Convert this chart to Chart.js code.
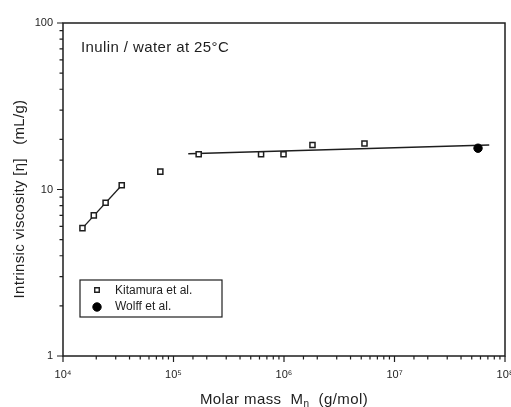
<!DOCTYPE html>
<html>
<head>
<meta charset="utf-8">
<script src="https://cdn.jsdelivr.net/npm/chart.js@4.4.1/dist/chart.umd.min.js"></script>
<style>
  html, body { margin: 0; padding: 0; background: #fff; }
  #wrap { width: 511px; height: 407px; }
</style>
</head>
<body>
<div id="wrap"><canvas id="chart" width="511" height="407"></canvas></div>
<script>
// Kitamura et al. (open squares)
const kitamuraMass = [1.5e4, 1.9e4, 2.43e4, 3.4e4, 7.6e4, 1.69e5, 6.2e5, 9.9e5, 1.81e6, 5.35e6];
const kitamuraVisc = [5.86, 6.99, 8.32, 10.6, 12.8, 16.3, 16.3, 16.3, 18.5, 18.9];
// Wolff et al. (filled circle)
const wolffMass = [5.7e7];
const wolffVisc = [17.7];
// fitted lines
const fitLowMass = [1.5e4, 3.4e4];
const fitLowVisc = [5.86, 10.6];
const fitHighMass = [1.36e5, 7.2e7];
const fitHighVisc = [16.4, 18.5];

const sup = { 4: '\u2074', 5: '\u2075', 6: '\u2076', 7: '\u2077', 8: '\u2078' };
const ink = '#1e1e1e';
const font = '"Liberation Sans", Arial, sans-serif';

const pts = (xs, ys) => xs.map((x, i) => ({ x: x, y: ys[i] }));
const isDecade = v => Math.abs(Math.log10(v) - Math.round(Math.log10(v))) < 1e-9;

const squareStyle = { pointStyle: 'rect', radius: 3.6, borderWidth: 1.5, rotation: 0 };
const circleStyle = { pointStyle: 'circle', radius: 4.2, borderWidth: 1, rotation: 0 };

// frame, ticks, titles, note and legend
const decor = {
  id: 'decor',
  afterDraw(chart) {
    const ctx = chart.ctx;
    const a = chart.chartArea;
    const xs = chart.scales.x, ys = chart.scales.y;
    ctx.save();
    ctx.strokeStyle = ink;
    ctx.lineWidth = 1.5;
    ctx.strokeRect(a.left, a.top, a.right - a.left, a.bottom - a.top);

    ctx.lineWidth = 1.2;
    ctx.beginPath();
    xs.ticks.forEach(t => {
      const px = xs.getPixelForValue(t.value);
      const len = isDecade(t.value) ? 6 : 3.5;
      ctx.moveTo(px, a.bottom);
      ctx.lineTo(px, a.bottom + len);
    });
    ys.ticks.forEach(t => {
      const py = ys.getPixelForValue(t.value);
      const len = isDecade(t.value) ? 6 : 3.5;
      ctx.moveTo(a.left, py);
      ctx.lineTo(a.left - len, py);
    });
    ctx.stroke();

    ctx.fillStyle = ink;
    ctx.letterSpacing = '0.4px';
    // note
    ctx.font = '15px ' + font;
    ctx.textAlign = 'left';
    ctx.textBaseline = 'alphabetic';
    ctx.fillText('Inulin / water at 25\u00B0C', 81, 51.5);

    // x title with subscript
    const p1 = 'Molar mass  M', p2 = '\u03B7', p3 = '  (g/mol)';
    ctx.font = '15px ' + font;
    const w1 = ctx.measureText(p1).width, w3 = ctx.measureText(p3).width;
    ctx.font = '10px ' + font;
    const w2 = ctx.measureText(p2).width;
    const x0 = 284 - (w1 + w2 + w3) / 2;
    ctx.font = '15px ' + font;
    ctx.fillText(p1, x0, 404);
    ctx.font = '10px ' + font;
    ctx.fillText(p2, x0 + w1, 407);
    ctx.font = '15px ' + font;
    ctx.fillText(p3, x0 + w1 + w2, 404);

    // y title
    ctx.save();
    ctx.letterSpacing = '0.3px';
    ctx.translate(20, 199);
    ctx.rotate(-Math.PI / 2);
    ctx.textAlign = 'center';
    ctx.textBaseline = 'middle';
    ctx.font = '15px ' + font;
    ctx.fillText('Intrinsic viscosity [\u03B7]   (mL/g)', 0, 0);
    ctx.restore();

    // legend
    ctx.letterSpacing = '0px';
    ctx.lineWidth = 1.2;
    ctx.strokeRect(80, 280, 142, 37);
    ctx.fillStyle = '#fff';
    ctx.strokeStyle = ink;
    ctx.lineWidth = 1.4;
    Chart.helpers.drawPoint(ctx, { pointStyle: 'rect', radius: 3.2, borderWidth: 1.4, rotation: 0 }, 97, 290);
    ctx.fillStyle = '#000';
    ctx.strokeStyle = '#000';
    ctx.lineWidth = 1;
    Chart.helpers.drawPoint(ctx, circleStyle, 97, 307);
    ctx.fillStyle = ink;
    ctx.font = '12px ' + font;
    ctx.textAlign = 'left';
    ctx.textBaseline = 'middle';
    ctx.fillText(chart.data.datasets[0].label, 115, 291);
    ctx.fillText(chart.data.datasets[1].label, 115, 307);
    ctx.restore();
  }
};

new Chart(document.getElementById('chart'), {
  type: 'scatter',
  data: {
    datasets: [
      {
        label: 'Kitamura et al.',
        data: pts(kitamuraMass, kitamuraVisc),
        pointStyle: 'rect',
        pointRadius: squareStyle.radius,
        pointBorderWidth: squareStyle.borderWidth,
        pointBorderColor: ink,
        pointBackgroundColor: '#fff',
        order: 1
      },
      {
        label: 'Wolff et al.',
        data: pts(wolffMass, wolffVisc),
        pointStyle: 'circle',
        pointRadius: circleStyle.radius,
        pointBorderColor: '#000',
        pointBackgroundColor: '#000',
        order: 1
      },
      {
        label: 'fit low',
        data: pts(fitLowMass, fitLowVisc),
        showLine: true,
        pointRadius: 0,
        borderColor: ink,
        borderWidth: 1.3,
        order: 2
      },
      {
        label: 'fit high',
        data: pts(fitHighMass, fitHighVisc),
        showLine: true,
        pointRadius: 0,
        borderColor: ink,
        borderWidth: 1.3,
        order: 2
      }
    ]
  },
  options: {
    responsive: false,
    animation: false,
    maintainAspectRatio: false,
    layout: { padding: { top: 23, right: 6, left: 0, bottom: 0 } },
    plugins: {
      legend: { display: false },
      tooltip: { enabled: false }
    },
    scales: {
      x: {
        type: 'logarithmic',
        min: 1e4,
        max: 1e8,
        grid: { display: false, drawTicks: false },
        border: { display: false },
        ticks: {
          autoSkip: false,
          maxRotation: 0,
          padding: 12,
          color: ink,
          font: { family: font, size: 11 },
          callback: v => isDecade(v) ? '10' + sup[Math.round(Math.log10(v))] : ''
        },
        afterFit: s => { s.height = 51; s.paddingLeft = 0; s.paddingRight = 0; }
      },
      y: {
        type: 'logarithmic',
        min: 1,
        max: 100,
        grid: { display: false, drawTicks: false },
        border: { display: false },
        ticks: {
          autoSkip: false,
          padding: 10,
          color: ink,
          font: { family: font, size: 11 },
          callback: v => isDecade(v) ? String(v) : ''
        },
        afterFit: s => { s.width = 63; s.paddingTop = 0; s.paddingBottom = 0; }
      }
    }
  },
  plugins: [decor]
});
</script>
</body>
</html>
